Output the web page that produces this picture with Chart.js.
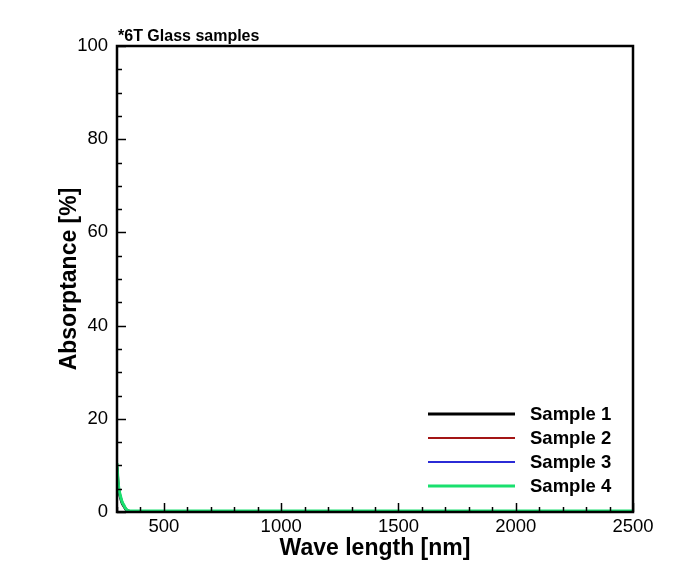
<!DOCTYPE html>
<html>
<head>
<meta charset="utf-8">
<script src="https://cdn.jsdelivr.net/npm/chart.js@4.4.0/dist/chart.umd.min.js"></script>
<style>
  html, body { margin: 0; padding: 0; background: #fff; }
  #wrap { width: 692px; height: 568px; }
</style>
</head>
<body>
<div id="wrap"><canvas id="c"></canvas></div>
<script>
// --- Data ---
const wavelengths = [300, 304, 308, 312, 317, 323, 329, 336, 343, 350, 360, 400, 500, 700, 1000, 1500, 2000, 2500];
const sample1 = [9.6, 6.4, 4.6, 3.6, 2.7, 1.8, 1.3, 0.7, 0.35, 0.2, 0.1, 0.1, 0.1, 0.1, 0.1, 0.1, 0.1, 0.1];
const sample2 = [9.7, 6.5, 4.7, 3.7, 2.8, 1.9, 1.3, 0.7, 0.35, 0.2, 0.1, 0.1, 0.1, 0.1, 0.1, 0.1, 0.1, 0.1];
const sample3 = [9.8, 6.6, 4.8, 3.8, 2.8, 1.9, 1.4, 0.75, 0.4, 0.2, 0.1, 0.1, 0.1, 0.1, 0.1, 0.1, 0.1, 0.1];
const sample4 = [10.5, 7.0, 5.0, 4.0, 3.0, 2.0, 1.5, 0.8, 0.4, 0.25, 0.2, 0.2, 0.2, 0.2, 0.2, 0.2, 0.2, 0.2];
const seriesNames = ['Sample 1', 'Sample 2', 'Sample 3', 'Sample 4'];
const seriesColors = ['#000000', '#a31515', '#2b2bd6', '#19e06e'];
const seriesWidths = [3, 2, 2, 3];
const xMajor = [500, 1000, 1500, 2000, 2500];
const yMajor = [0, 20, 40, 60, 80, 100];

const FONT = '"Liberation Sans", Arial, sans-serif';

const toPoints = ys => wavelengths.map((x, i) => ({ x: x, y: ys[i] }));

// inward ticks, frame, header text and legend
const framePlugin = {
    id: 'frame',
    afterDraw(chart) {
        const ctx = chart.ctx;
        const a = chart.chartArea;
        const xs = chart.scales.x, ys = chart.scales.y;
        ctx.save();
        ctx.strokeStyle = '#000';
        ctx.lineWidth = 1.5;
        xs.ticks.forEach(t => {
            const px = Math.round(xs.getPixelForValue(t.value)) + 0.5;
            const len = xMajor.includes(t.value) ? 9 : 5;
            ctx.beginPath();
            ctx.moveTo(px, a.bottom);
            ctx.lineTo(px, a.bottom - len);
            ctx.stroke();
        });
        ys.ticks.forEach(t => {
            const py = Math.round(ys.getPixelForValue(t.value)) + 0.5;
            const len = yMajor.includes(t.value) ? 9 : 5;
            ctx.beginPath();
            ctx.moveTo(a.left, py);
            ctx.lineTo(a.left + len, py);
            ctx.stroke();
        });
        ctx.lineWidth = 2.5;
        ctx.strokeRect(a.left, a.top, a.right - a.left, a.bottom - a.top);

        // header text
        ctx.fillStyle = '#000';
        ctx.font = 'bold 16px ' + FONT;
        ctx.textBaseline = 'alphabetic';
        ctx.textAlign = 'left';
        ctx.fillText('*6T Glass samples', a.left + 1, a.top - 5);

        // legend inside plot
        ctx.font = 'bold 18.5px ' + FONT;
        ctx.textBaseline = 'middle';
        seriesNames.forEach((name, i) => {
            const y = 414 + i * 24;
            ctx.strokeStyle = seriesColors[i];
            ctx.lineWidth = seriesWidths[i];
            ctx.beginPath();
            ctx.moveTo(428, y);
            ctx.lineTo(515, y);
            ctx.stroke();
            ctx.fillText(name, 530, y + 1);
        });
        ctx.restore();
    }
};

new Chart(document.getElementById('c'), {
    type: 'line',
    data: {
        datasets: [sample1, sample2, sample3, sample4].map((s, i) => ({
            label: seriesNames[i],
            data: toPoints(s),
            borderColor: seriesColors[i],
            borderWidth: seriesWidths[i],
            pointRadius: 0,
            tension: 0.3,
            fill: false,
            order: 4 - i
        }))
    },
    options: {
        responsive: true,
        maintainAspectRatio: false,
        animation: false,
        layout: { padding: { left: 56, top: 46, right: 59, bottom: 6 } },
        plugins: { legend: { display: false }, tooltip: { enabled: false } },
        scales: {
            x: {
                type: 'linear',
                min: 300,
                max: 2500,
                grid: { display: false, drawTicks: false, tickLength: 0 },
                border: { display: false },
                ticks: {
                    stepSize: 100,
                    autoSkip: false,
                    maxRotation: 0,
                    padding: 4,
                    color: '#000',
                    font: { family: FONT, size: 18.5 },
                    callback: v => xMajor.includes(v) ? String(v) : ''
                },
                title: {
                    display: true,
                    text: 'Wave length [nm]',
                    color: '#000',
                    font: { family: FONT, size: 23, weight: 'bold' },
                    padding: { top: 0, bottom: 0 }
                },
                afterFit: s => { s.height = 50; }
            },
            y: {
                min: 0,
                max: 100,
                grid: { display: false, drawTicks: false, tickLength: 0 },
                border: { display: false },
                ticks: {
                    stepSize: 5,
                    autoSkip: false,
                    padding: 9,
                    color: '#000',
                    font: { family: FONT, size: 18.5 },
                    callback: v => yMajor.includes(v) ? String(v) : ''
                },
                title: {
                    display: true,
                    text: 'Absorptance [%]',
                    color: '#000',
                    font: { family: FONT, size: 23, weight: 'bold' },
                    padding: { top: 0, bottom: 0 }
                },
                afterFit: s => { s.width = 61; }
            }
        }
    },
    plugins: [framePlugin]
});
</script>
</body>
</html>
